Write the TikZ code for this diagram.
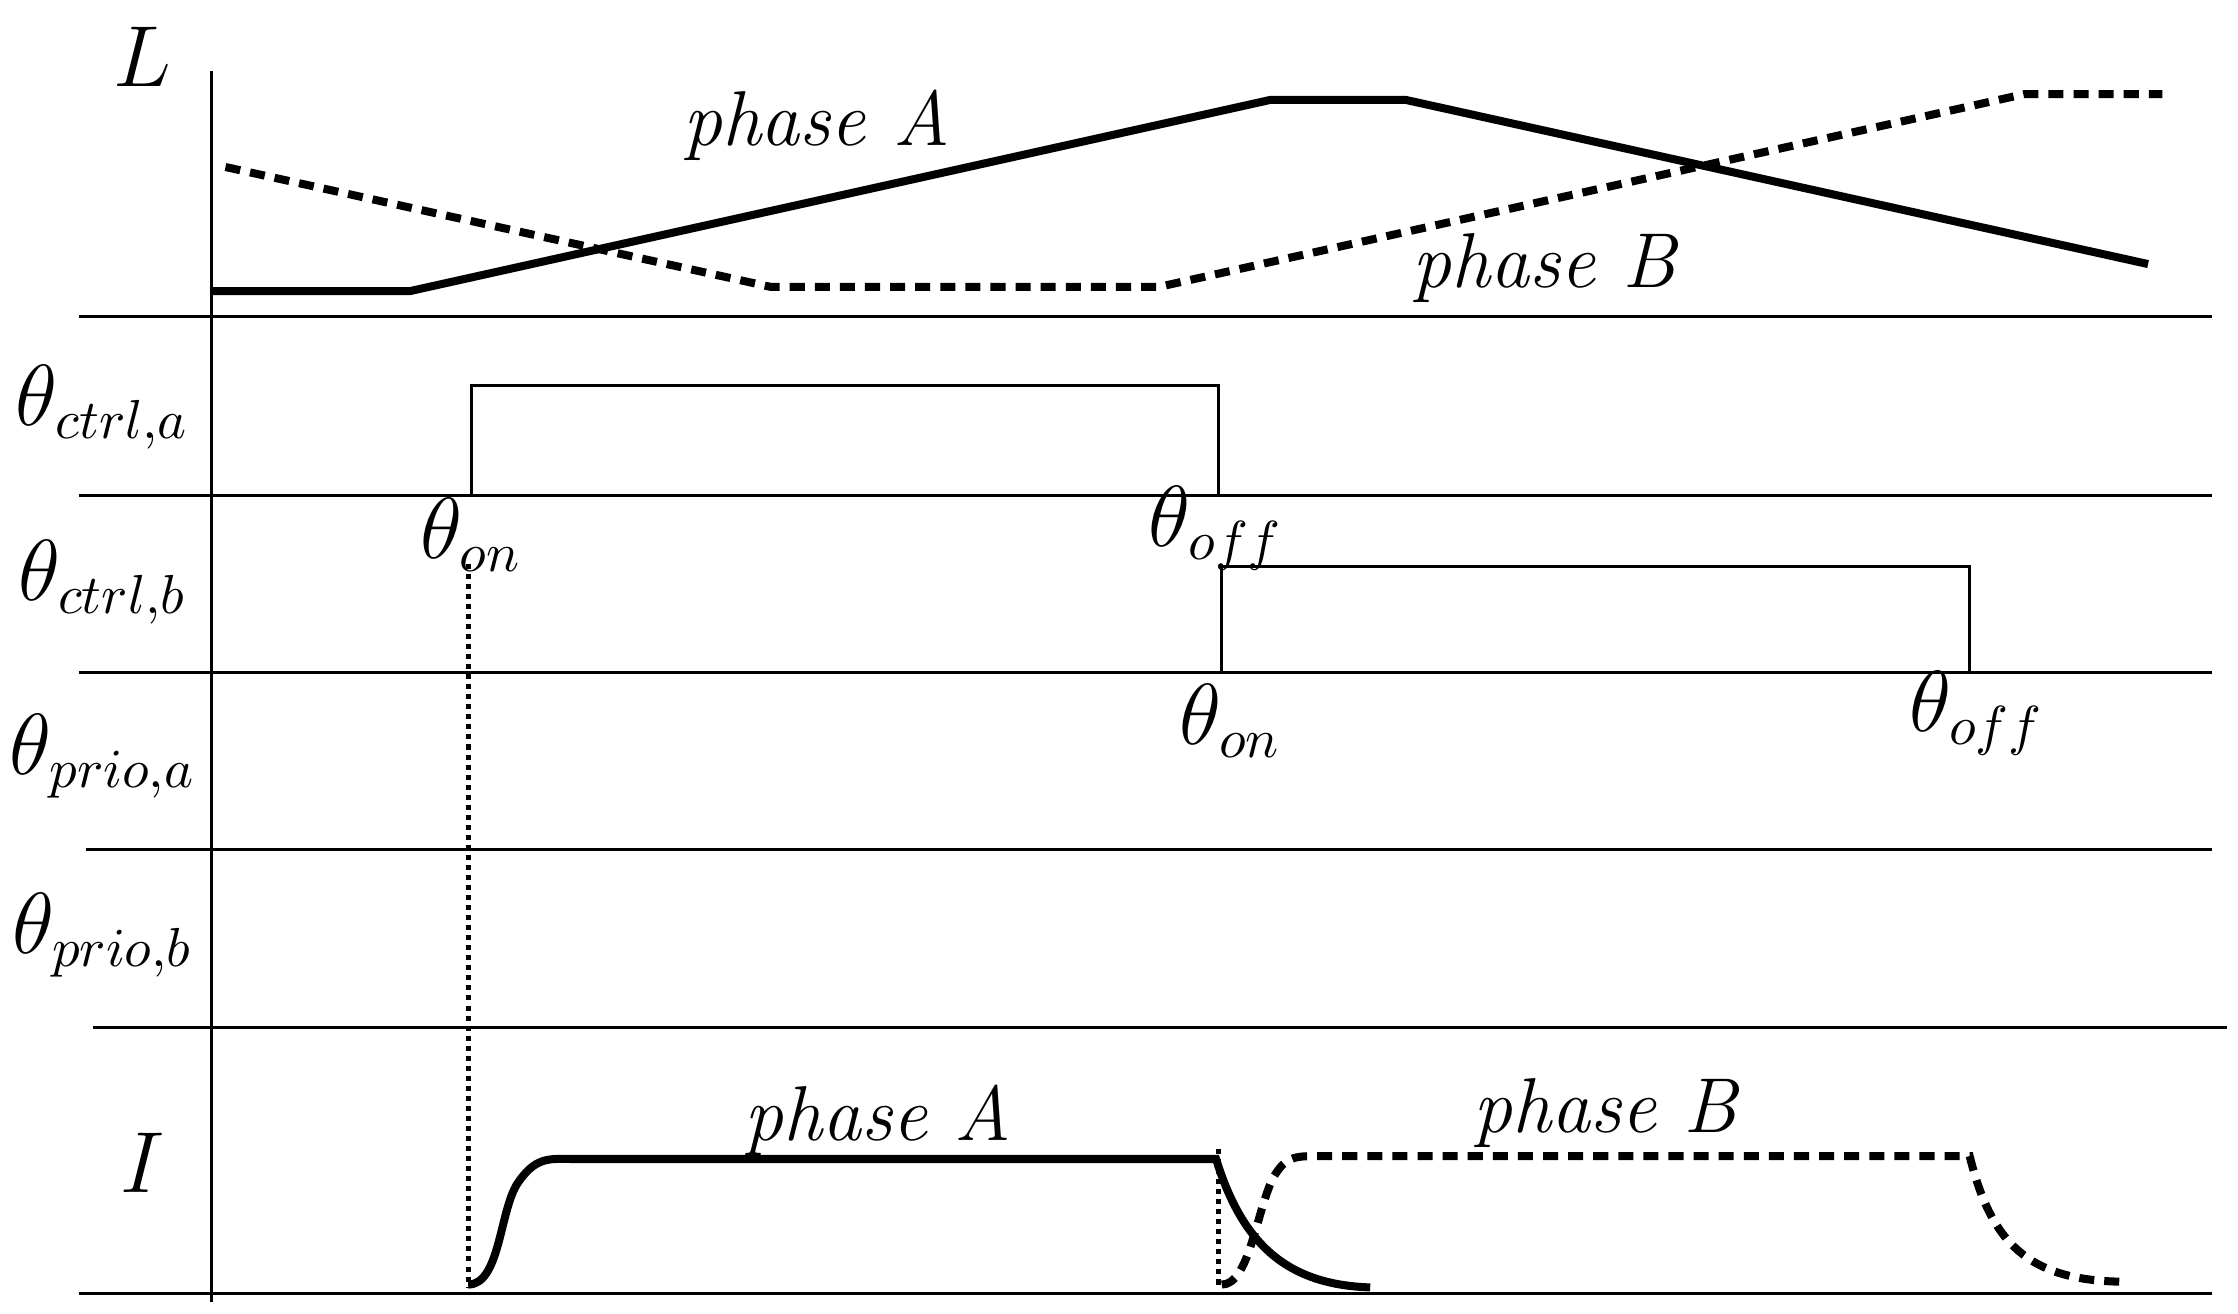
\documentclass[tikz,border=0pt]{standalone}
\begin{document}
\begin{tikzpicture}[x=0.01cm,y=-0.01cm,
  lab/.style={font=\fontsize{16}{18}\selectfont},
  ph/.style={font=\fontsize{15.5}{18}\selectfont\itshape},
  sol/.style={line width=1.6pt},
  dsh/.style={line width=1.6pt,dash pattern=on 3pt off 2pt},
  ax/.style={line width=0.6pt}]
\useasboundingbox (0,0) rectangle (1568,920);
\draw[ax] (148,50) -- (148,912);
\foreach \y/\a/\b in {222/55/1550,347/55/1550,471/55/1550,595/60/1550,720/65/1560,906/55/1550}
  \draw[ax] (\a,\y) -- (\b,\y);
\node[lab] (L) at (100,40) {$L$};
\node[lab] (I) at (100,815) {$I$};
\node[lab] (ca) at (72,285) {$\theta_{ctrl,a}$};
\node[lab] (cb) at (72,408) {$\theta_{ctrl,b}$};
\node[lab] (pa) at (72,530) {$\theta_{prio,a}$};
\node[lab] (pb) at (72,655) {$\theta_{prio,b}$};
% inductance
\draw[sol] (148,204) -- (287,204) -- (890,70) -- (985,70) -- (1505,185);
\draw[dsh] (158,117) -- (540,201) -- (812,201) -- (1418,66) -- (1515,66);
\node[ph] (LA) at (572,88) {phase A};
\node[ph] (LB) at (1082,188) {phase B};
% control pulses
\draw[ax] (330,347) -- (330,270) -- (854,270) -- (854,347);
\node[lab] (on1) at (330,375) {$\theta_{on}$};
\node[lab] (off1) at (852,370) {$\theta_{off}$};
\draw[ax] (856,471) -- (856,397) -- (1380,397) -- (1380,471);
\node[lab] (on2) at (862,505) {$\theta_{on}$};
\node[lab] (off2) at (1385,500) {$\theta_{off}$};
% dotted markers
\draw[line width=1pt,densely dotted] (328,395) -- (328,902);
\draw[line width=1pt,densely dotted] (854,805) -- (854,902);
% currents
\draw[sol] (328,900) .. controls (350,900) and (350,850) .. (362,830) .. controls (375,810) and (385,812) .. (400,812) -- (852,812) .. controls (870,870) and (900,900) .. (960,902);
\draw[dsh] (856,900) .. controls (875,900) and (880,850) .. (892,825) .. controls (900,812) and (905,810) .. (920,810) -- (1380,810) .. controls (1395,870) and (1420,898) .. (1490,898);
\node[ph] (IA) at (615,785) {phase A};
\node[ph] (IB) at (1125,780) {phase B};
\end{tikzpicture}
\end{document}
